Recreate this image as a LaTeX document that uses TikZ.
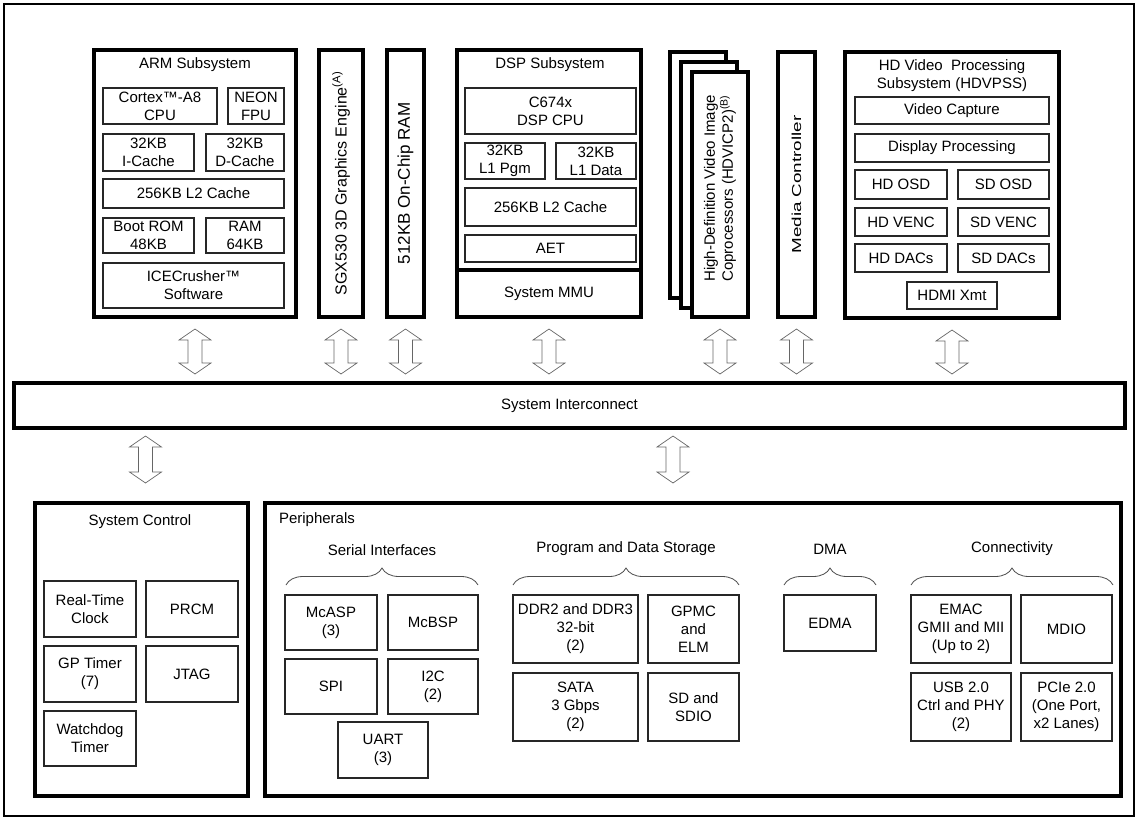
\documentclass[tikz,border=0pt]{standalone}
\usepackage{fontspec}
\setmainfont{Liberation Sans}
\usetikzlibrary{calc, decorations.pathreplacing}

\begin{document}
\begin{tikzpicture}[x=1pt, y=-1pt,
    every node/.style={font=\fontsize{15}{18}\selectfont, inner sep=0pt, outer sep=0pt},
    sys/.style={draw, line width=4pt, anchor=north west, fill=white},
    blk/.style={draw=black!85, line width=1.1pt, anchor=north west, align=center},
    brc/.style={draw=black!70, line width=0.8pt, decorate, decoration={brace, amplitude=17pt}},
    bus/.style={draw=black!60, line width=0.7pt, fill=white,
        to path={let \p1=(\tikztostart), \p2=(\tikztotarget) in
            (\x1,\y1) -- (\x1+16pt,\y1-11pt) -- (\x1+7pt,\y1-11pt) -- (\x1+7pt,\y2+11pt)
            -- (\x1+16pt,\y2+11pt) -- (\x1,\y2) -- (\x1-16pt,\y2+11pt) -- (\x1-7pt,\y2+11pt)
            -- (\x1-7pt,\y1-11pt) -- (\x1-16pt,\y1-11pt) -- cycle}}]
    \useasboundingbox (0,0) rectangle (1138,820);
    % Frame
    \draw[line width=1.5pt] (4,4) rectangle (1134,816);

    % ARM subsystem
    \node[sys, minimum width=202pt, minimum height=267pt] (arm) at (94,50) {};
    \node (armttl) at (195,65) {ARM Subsystem};
    \node[blk, minimum width=114pt, minimum height=36pt] (cortex) at (103,88) {Cortex™-A8\\CPU};
    \node[blk, minimum width=56pt, minimum height=36pt] (neon) at (228,88) {NEON\\FPU};
    \node[blk, minimum width=91pt, minimum height=37pt] (icache) at (103,134) {32KB\\I-Cache};
    \node[blk, minimum width=78pt, minimum height=37pt] (dcache) at (206,134) {32KB\\D-Cache};
    \node[blk, minimum width=181pt, minimum height=29pt] (armltwo) at (103,179) {256KB L2 Cache};
    \node[blk, minimum width=91pt, minimum height=35pt] (bootrom) at (103,218) {Boot ROM\\48KB};
    \node[blk, minimum width=78pt, minimum height=35pt] (armram) at (206,218) {RAM\\64KB};
    \node[blk, minimum width=181pt, minimum height=45pt] (ice) at (103,263) {ICECrusher™\\Software};

    % Graphics and on-chip RAM
    \node[sys, minimum width=44pt, minimum height=267pt] (sgx) at (319,50) {};
    \node[rotate=90, font=\fontsize{16}{19}\selectfont] (sgxtxt) at (sgx.center) {SGX530 3D Graphics Engine\textsuperscript{(A)}};
    \node[sys, minimum width=37pt, minimum height=267pt] (ocram) at (387,50) {};
    \node[rotate=90, font=\fontsize{17}{20}\selectfont] (ocramtxt) at (ocram.center) {512KB On-Chip RAM};

    % DSP subsystem
    \node[sys, minimum width=184pt, minimum height=220pt] (dsp) at (457,50) {};
    \node[sys, minimum width=184pt, minimum height=47pt] (mmu) at (457,270) {System MMU};
    \node (dspttl) at (550,65) {DSP Subsystem};
    \node[blk, minimum width=171pt, minimum height=46pt] (dspcpu) at (465,88) {C674x\\DSP CPU};
    \node[blk, minimum width=80pt, minimum height=36pt] (lonep) at (465,143) {32KB\\L1 Pgm};
    \node[blk, minimum width=80pt, minimum height=36pt] (loned) at (556,143) {32KB\\L1 Data};
    \node[blk, minimum width=171pt, minimum height=38pt] (dspltwo) at (465,188) {256KB L2 Cache};
    \node[blk, minimum width=171pt, minimum height=27pt] (aet) at (465,235) {AET};

    % HDVICP2 stack
    \node[sys, minimum width=56pt, minimum height=246pt] (hdvicpc) at (670,52) {};
    \node[sys, minimum width=56pt, minimum height=246pt] (hdvicpb) at (681,62) {};
    \node[sys, minimum width=56pt, minimum height=245pt] (hdvicp) at (692,72) {};
    \node[rotate=90, align=center] (hdvicptxt) at ($(hdvicp.center)+(0,-6)$) {High-Definition Video Image\\Coprocessors (HDVICP2)\textsuperscript{(B)}};

    % Media controller
    \node[sys, minimum width=37pt, minimum height=265pt] (media) at (778,52) {};
    \node[rotate=90, font=\fontsize{13}{16}\selectfont] (mediatxt) at (media.center) {\scalebox{1.45}[1]{Media Controller}};

    % HDVPSS
    \node[sys, minimum width=214pt, minimum height=266pt] (hdvpss) at (845,52) {};
    \node[align=center] (hdvpssttl) at (952,76) {HD Video\ \ Processing\\Subsystem (HDVPSS)};
    \node[blk, minimum width=194pt, minimum height=27pt] (vcap) at (855,97) {Video Capture};
    \node[blk, minimum width=194pt, minimum height=28pt] (dproc) at (855,134) {Display Processing};
    \node[blk, minimum width=92pt, minimum height=29pt] (hdosd) at (855,170) {HD OSD};
    \node[blk, minimum width=91pt, minimum height=29pt] (sdosd) at (958,170) {SD OSD};
    \node[blk, minimum width=92pt, minimum height=28pt] (hdvenc) at (855,208) {HD VENC};
    \node[blk, minimum width=91pt, minimum height=28pt] (sdvenc) at (958,208) {SD VENC};
    \node[blk, minimum width=92pt, minimum height=28pt] (hddac) at (855,244) {HD DACs};
    \node[blk, minimum width=91pt, minimum height=28pt] (sddac) at (958,244) {SD DACs};
    \node[blk, minimum width=90pt, minimum height=27pt] (hdmi) at (907,282) {HDMI Xmt};

    % Interconnect
    \node[sys, minimum width=1111pt, minimum height=45pt] (ic) at (14,383) {System Interconnect};

    % System control
    \node[sys, minimum width=213pt, minimum height=293pt] (ctl) at (35,503) {};
    \node (ctlttl) at (140,522) {System Control};
    \node[blk, minimum width=92pt, minimum height=56pt] (rtc) at (44,581) {Real-Time\\Clock};
    \node[blk, minimum width=92pt, minimum height=56pt] (prcm) at (146,581) {PRCM};
    \node[blk, minimum width=92pt, minimum height=56pt] (gptimer) at (44,646) {GP Timer\\(7)};
    \node[blk, minimum width=92pt, minimum height=56pt] (jtag) at (146,646) {JTAG};
    \node[blk, minimum width=92pt, minimum height=55pt] (wdt) at (44,711) {Watchdog\\Timer};

    % Peripherals
    \node[sys, minimum width=856pt, minimum height=293pt] (periph) at (265,503) {};
    \node[anchor=west] (periphttl) at (279,520) {Peripherals};

    \node (serialttl) at (382,550) {Serial Interfaces};
    \draw[brc] (286,585) -- (478,585);
    \node[blk, minimum width=92pt, minimum height=55pt] (mcasp) at (285,595) {McASP\\(3)};
    \node[blk, minimum width=90pt, minimum height=55pt] (mcbsp) at (388,595) {McBSP};
    \node[blk, minimum width=92pt, minimum height=55pt] (spi) at (285,659) {SPI};
    \node[blk, minimum width=90pt, minimum height=55pt] (itwoc) at (388,659) {I2C\\(2)};
    \node[blk, minimum width=90pt, minimum height=56pt] (uart) at (338,722) {UART\\(3)};

    \node (storettl) at (626,549) {Program and Data Storage};
    \draw[brc] (513,585) -- (739,585);
    \node[blk, minimum width=125pt, minimum height=68pt] (ddr) at (513,595) {DDR2 and DDR3\\32-bit\\(2)};
    \node[blk, minimum width=91pt, minimum height=68pt] (gpmc) at (648,595) {GPMC\\and\\ELM};
    \node[blk, minimum width=125pt, minimum height=68pt] (sata) at (513,673) {SATA\\3 Gbps\\(2)};
    \node[blk, minimum width=91pt, minimum height=68pt] (sdio) at (648,673) {SD and\\SDIO};

    \node (dmattl) at (830,549) {DMA};
    \draw[brc] (784,585) -- (876,585);
    \node[blk, minimum width=92pt, minimum height=56pt] (edma) at (784,595) {EDMA};

    \node (connttl) at (1012,549) {Connectivity};
    \draw[brc] (911,585) -- (1113,585);
    \node[blk, minimum width=100pt, minimum height=68pt] (emac) at (911,595) {EMAC\\GMII and MII\\(Up to 2)};
    \node[blk, minimum width=91pt, minimum height=68pt] (mdio) at (1021,595) {MDIO};
    \node[blk, minimum width=100pt, minimum height=68pt] (usb) at (911,673) {USB 2.0\\Ctrl and PHY\\(2)};
    \node[blk, minimum width=91pt, minimum height=68pt] (pcie) at (1021,673) {PCIe 2.0\\(One Port,\\x2 Lanes)};

    % Bus arrows
    \foreach \b in {arm,sgx,ocram,mmu,hdvicp,media,hdvpss}
        \draw[bus] ($(\b.south)+(0,12)$) to ($(\b.south |- ic.north)+(0,-9)$);
    \draw[bus] ($(ctl.north |- ic.south)+(4,8)$) to ($(ctl.north)+(4,-20)$);
    \draw[bus] ($(periph.north |- ic.south)+(-20,8)$) to ($(periph.north)+(-20,-20)$);
\end{tikzpicture}
\end{document}
